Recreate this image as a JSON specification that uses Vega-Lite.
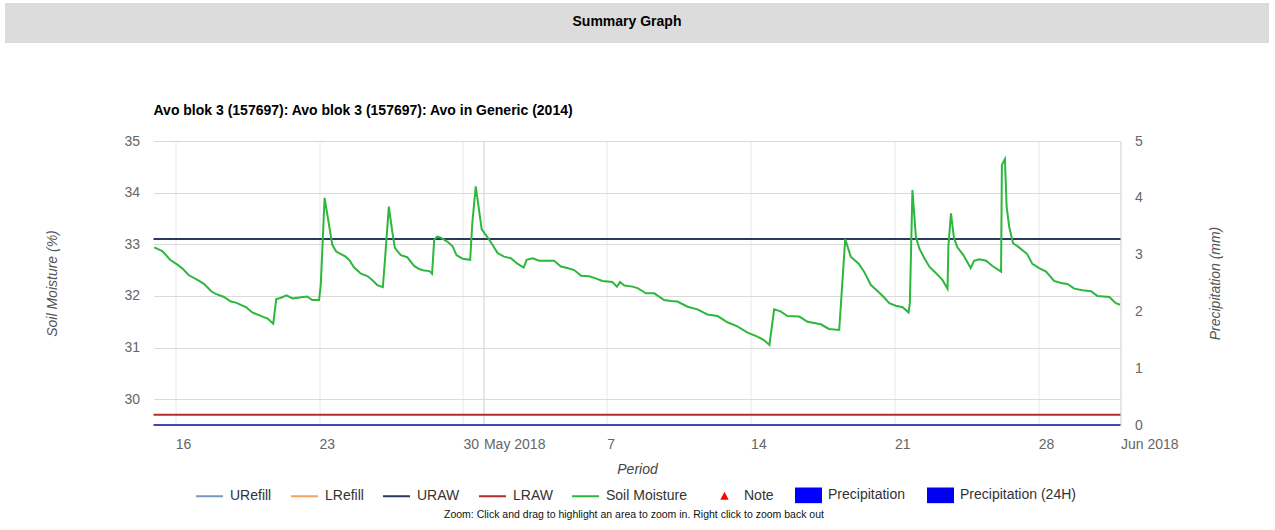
{
  "$schema": "https://vega.github.io/schema/vega-lite/v6.json",
  "padding": {"left": 5, "top": 3, "right": 3, "bottom": 0},
  "background": "white",
  "title": {"text": "Zoom: Click and drag to highlight an area to zoom in. Right click to zoom back out", "orient": "bottom", "anchor": "middle", "fontSize": 10.5, "fontWeight": "normal", "font": "Liberation Sans", "color": "#111111", "offset": 6, "dx": -3},
  "config": {
    "view": {"stroke": null},
    "font": "Liberation Sans"
  },
  "bounds": "flush",
  "center": true,
  "spacing": 98,
  "datasets": {
    "sm": [
      {"date": "2018-04-14T23:30Z", "v": 32.94},
      {"date": "2018-04-15T09:00Z", "v": 32.87},
      {"date": "2018-04-15T18:00Z", "v": 32.70},
      {"date": "2018-04-16T03:00Z", "v": 32.60},
      {"date": "2018-04-16T09:00Z", "v": 32.52},
      {"date": "2018-04-16T16:00Z", "v": 32.40},
      {"date": "2018-04-17T02:00Z", "v": 32.31},
      {"date": "2018-04-17T10:00Z", "v": 32.23},
      {"date": "2018-04-17T18:00Z", "v": 32.09},
      {"date": "2018-04-17T23:30Z", "v": 32.04},
      {"date": "2018-04-18T09:00Z", "v": 31.98},
      {"date": "2018-04-18T17:00Z", "v": 31.89},
      {"date": "2018-04-18T23:00Z", "v": 31.87},
      {"date": "2018-04-19T11:00Z", "v": 31.78},
      {"date": "2018-04-19T18:00Z", "v": 31.68},
      {"date": "2018-04-20T06:00Z", "v": 31.60},
      {"date": "2018-04-20T12:00Z", "v": 31.56},
      {"date": "2018-04-20T18:30Z", "v": 31.46},
      {"date": "2018-04-20T22:00Z", "v": 31.94},
      {"date": "2018-04-21T03:00Z", "v": 31.96},
      {"date": "2018-04-21T10:00Z", "v": 32.01},
      {"date": "2018-04-21T17:00Z", "v": 31.95},
      {"date": "2018-04-22T01:00Z", "v": 31.97},
      {"date": "2018-04-22T10:00Z", "v": 31.99},
      {"date": "2018-04-22T16:00Z", "v": 31.92},
      {"date": "2018-04-23T00:00Z", "v": 31.92},
      {"date": "2018-04-23T02:00Z", "v": 32.21},
      {"date": "2018-04-23T06:30Z", "v": 33.90},
      {"date": "2018-04-23T12:00Z", "v": 33.34},
      {"date": "2018-04-23T15:30Z", "v": 32.99},
      {"date": "2018-04-23T20:00Z", "v": 32.86},
      {"date": "2018-04-24T07:00Z", "v": 32.76},
      {"date": "2018-04-24T11:00Z", "v": 32.70},
      {"date": "2018-04-24T17:00Z", "v": 32.55},
      {"date": "2018-04-25T01:00Z", "v": 32.43},
      {"date": "2018-04-25T09:00Z", "v": 32.38},
      {"date": "2018-04-25T14:00Z", "v": 32.31},
      {"date": "2018-04-25T20:00Z", "v": 32.21},
      {"date": "2018-04-26T02:30Z", "v": 32.17},
      {"date": "2018-04-26T05:00Z", "v": 32.70},
      {"date": "2018-04-26T09:30Z", "v": 33.73},
      {"date": "2018-04-26T13:30Z", "v": 33.25},
      {"date": "2018-04-26T16:30Z", "v": 32.93},
      {"date": "2018-04-26T23:30Z", "v": 32.79},
      {"date": "2018-04-27T07:00Z", "v": 32.75},
      {"date": "2018-04-27T15:00Z", "v": 32.58},
      {"date": "2018-04-27T21:00Z", "v": 32.52},
      {"date": "2018-04-28T03:00Z", "v": 32.49},
      {"date": "2018-04-28T09:00Z", "v": 32.48},
      {"date": "2018-04-28T12:00Z", "v": 32.43},
      {"date": "2018-04-28T14:30Z", "v": 33.09},
      {"date": "2018-04-28T18:00Z", "v": 33.15},
      {"date": "2018-04-28T22:00Z", "v": 33.13},
      {"date": "2018-04-29T06:00Z", "v": 33.05},
      {"date": "2018-04-29T12:00Z", "v": 32.96},
      {"date": "2018-04-29T16:30Z", "v": 32.79},
      {"date": "2018-04-29T23:30Z", "v": 32.72},
      {"date": "2018-04-30T08:30Z", "v": 32.70},
      {"date": "2018-04-30T11:00Z", "v": 33.41},
      {"date": "2018-04-30T15:00Z", "v": 34.12},
      {"date": "2018-04-30T22:00Z", "v": 33.29},
      {"date": "2018-05-01T05:00Z", "v": 33.13},
      {"date": "2018-05-01T10:30Z", "v": 32.99},
      {"date": "2018-05-01T16:30Z", "v": 32.83},
      {"date": "2018-05-02T00:00Z", "v": 32.76},
      {"date": "2018-05-02T08:00Z", "v": 32.73},
      {"date": "2018-05-02T16:00Z", "v": 32.62},
      {"date": "2018-05-02T23:00Z", "v": 32.55},
      {"date": "2018-05-03T02:30Z", "v": 32.70},
      {"date": "2018-05-03T09:30Z", "v": 32.73},
      {"date": "2018-05-03T17:00Z", "v": 32.68},
      {"date": "2018-05-04T03:00Z", "v": 32.68},
      {"date": "2018-05-04T10:30Z", "v": 32.68},
      {"date": "2018-05-04T18:30Z", "v": 32.57},
      {"date": "2018-05-05T02:00Z", "v": 32.54},
      {"date": "2018-05-05T10:00Z", "v": 32.50},
      {"date": "2018-05-05T18:00Z", "v": 32.39},
      {"date": "2018-05-06T03:30Z", "v": 32.38},
      {"date": "2018-05-06T11:00Z", "v": 32.34},
      {"date": "2018-05-06T19:00Z", "v": 32.29},
      {"date": "2018-05-07T06:30Z", "v": 32.27},
      {"date": "2018-05-07T12:00Z", "v": 32.18},
      {"date": "2018-05-07T15:30Z", "v": 32.27},
      {"date": "2018-05-07T20:30Z", "v": 32.20},
      {"date": "2018-05-08T06:00Z", "v": 32.18},
      {"date": "2018-05-08T12:00Z", "v": 32.15},
      {"date": "2018-05-08T18:00Z", "v": 32.09},
      {"date": "2018-05-08T21:30Z", "v": 32.05},
      {"date": "2018-05-09T07:30Z", "v": 32.05},
      {"date": "2018-05-09T19:00Z", "v": 31.92},
      {"date": "2018-05-10T03:00Z", "v": 31.90},
      {"date": "2018-05-10T10:30Z", "v": 31.89},
      {"date": "2018-05-10T22:30Z", "v": 31.79},
      {"date": "2018-05-11T10:00Z", "v": 31.74},
      {"date": "2018-05-11T21:30Z", "v": 31.64},
      {"date": "2018-05-12T09:30Z", "v": 31.61},
      {"date": "2018-05-12T21:00Z", "v": 31.49},
      {"date": "2018-05-13T08:30Z", "v": 31.41},
      {"date": "2018-05-13T20:30Z", "v": 31.29},
      {"date": "2018-05-14T08:00Z", "v": 31.21},
      {"date": "2018-05-14T16:00Z", "v": 31.14},
      {"date": "2018-05-14T22:00Z", "v": 31.05},
      {"date": "2018-05-15T03:30Z", "v": 31.74},
      {"date": "2018-05-15T11:00Z", "v": 31.70},
      {"date": "2018-05-15T19:00Z", "v": 31.61},
      {"date": "2018-05-16T09:00Z", "v": 31.60},
      {"date": "2018-05-16T18:30Z", "v": 31.50},
      {"date": "2018-05-17T10:00Z", "v": 31.45},
      {"date": "2018-05-17T19:30Z", "v": 31.36},
      {"date": "2018-05-18T07:30Z", "v": 31.34},
      {"date": "2018-05-18T14:30Z", "v": 33.10},
      {"date": "2018-05-18T21:00Z", "v": 32.76},
      {"date": "2018-05-19T06:30Z", "v": 32.62},
      {"date": "2018-05-19T12:30Z", "v": 32.47},
      {"date": "2018-05-19T20:30Z", "v": 32.21},
      {"date": "2018-05-20T04:30Z", "v": 32.09},
      {"date": "2018-05-20T12:00Z", "v": 31.97},
      {"date": "2018-05-20T18:00Z", "v": 31.86},
      {"date": "2018-05-21T01:30Z", "v": 31.81},
      {"date": "2018-05-21T09:30Z", "v": 31.78},
      {"date": "2018-05-21T16:30Z", "v": 31.68},
      {"date": "2018-05-21T18:00Z", "v": 31.86},
      {"date": "2018-05-21T21:00Z", "v": 34.05},
      {"date": "2018-05-22T01:00Z", "v": 33.15},
      {"date": "2018-05-22T05:00Z", "v": 32.92},
      {"date": "2018-05-22T11:00Z", "v": 32.73},
      {"date": "2018-05-22T17:00Z", "v": 32.56},
      {"date": "2018-05-23T00:00Z", "v": 32.45},
      {"date": "2018-05-23T08:00Z", "v": 32.31},
      {"date": "2018-05-23T14:00Z", "v": 32.14},
      {"date": "2018-05-23T15:00Z", "v": 32.96},
      {"date": "2018-05-23T18:00Z", "v": 33.60},
      {"date": "2018-05-23T21:30Z", "v": 33.12},
      {"date": "2018-05-24T01:30Z", "v": 32.94},
      {"date": "2018-05-24T08:30Z", "v": 32.79},
      {"date": "2018-05-24T17:00Z", "v": 32.54},
      {"date": "2018-05-24T21:00Z", "v": 32.68},
      {"date": "2018-05-25T03:00Z", "v": 32.71},
      {"date": "2018-05-25T11:00Z", "v": 32.68},
      {"date": "2018-05-25T18:30Z", "v": 32.58},
      {"date": "2018-05-26T04:30Z", "v": 32.47},
      {"date": "2018-05-26T05:30Z", "v": 34.54},
      {"date": "2018-05-26T09:00Z", "v": 34.65},
      {"date": "2018-05-26T11:00Z", "v": 33.73},
      {"date": "2018-05-26T14:00Z", "v": 33.34},
      {"date": "2018-05-26T18:30Z", "v": 33.02},
      {"date": "2018-05-27T01:30Z", "v": 32.94},
      {"date": "2018-05-27T11:00Z", "v": 32.81},
      {"date": "2018-05-27T17:00Z", "v": 32.62},
      {"date": "2018-05-28T01:00Z", "v": 32.54},
      {"date": "2018-05-28T09:00Z", "v": 32.47},
      {"date": "2018-05-28T18:30Z", "v": 32.29},
      {"date": "2018-05-29T02:30Z", "v": 32.25},
      {"date": "2018-05-29T10:00Z", "v": 32.23},
      {"date": "2018-05-29T18:00Z", "v": 32.14},
      {"date": "2018-05-30T03:30Z", "v": 32.11},
      {"date": "2018-05-30T13:30Z", "v": 32.09},
      {"date": "2018-05-30T21:00Z", "v": 32.00},
      {"date": "2018-05-31T11:00Z", "v": 31.98},
      {"date": "2018-05-31T18:30Z", "v": 31.86},
      {"date": "2018-05-31T23:30Z", "v": 31.83}
    ]
  },
  "vconcat": [
    {
      "width": 1264,
      "height": 40,
      "view": {"fill": "#dcdcdc", "stroke": null},
      "data": {"values": [{"label": "Summary Graph"}]},
      "mark": {"type": "text", "fontSize": 14, "fontWeight": "bold", "font": "Liberation Sans", "color": "#000000", "baseline": "middle", "dx": -10, "dy": -1},
      "encoding": {"text": {"field": "label", "type": "nominal"}}
    },
    {
      "width": 967,
      "height": 284,
      "title": {"text": "Avo blok 3 (157697): Avo blok 3 (157697): Avo in Generic (2014)", "anchor": "start", "frame": "group", "fontSize": 14, "fontWeight": "bold", "color": "#000000", "offset": 16, "font": "Liberation Sans"},
      "layer": [
        {
          "layer": [
            {
              "data": {"values": [{"level": "URAW", "v": 33.1}, {"level": "LRAW", "v": 29.7}]},
              "mark": {"type": "rule", "strokeWidth": 2},
              "encoding": {
                "y": {"field": "v", "type": "quantitative", "scale": {"domain": [29.5, 35], "nice": false, "zero": false}},
                "color": {"field": "level", "type": "nominal", "title": null,
                  "scale": {"domain": ["URefill", "LRefill", "URAW", "LRAW", "Soil Moisture"], "range": ["#7798BF", "#f7a35c", "#2b3a5c", "#b22d2d", "#2db83d"]},
                  "legend": {"orient": "none", "legendX": 190, "legendY": 478.5, "padding": 0, "direction": "horizontal", "title": null, "columns": 5, "labelFontSize": 14, "labelColor": "#333333", "labelFont": "Liberation Sans", "symbolSize": 729, "symbolStrokeWidth": 2, "columnPadding": 15, "labelOffset": 6}
                }
              }
            },
            {
              "data": {"name": "sm"},
              "mark": {"type": "line", "strokeWidth": 2, "interpolate": "linear"},
              "encoding": {
                "x": {"field": "date", "type": "temporal",
                  "scale": {"type": "utc", "domain": [{"year": 2018, "month": 4, "date": 14, "hours": 22, "minutes": 40, "utc": true}, {"year": 2018, "month": 6, "date": 1, "utc": true}]},
                  "axis": {"title": "Period", "titleFontStyle": "italic", "titleFontSize": 14, "titleFontWeight": "normal", "titleColor": "#444444", "titleFont": "Liberation Sans", "titlePadding": 11,
                    "labelFontSize": 14, "labelColor": "#666666", "labelFont": "Liberation Sans", "labelAlign": "left", "labelPadding": 12, "labelFlush": false, "labelOverlap": false,
                    "ticks": false, "domain": false, "grid": true,
                    "gridColor": {"condition": {"test": "utcdate(datum.value) === 1", "value": "#cfcfcf"}, "value": "#e8e8e8"},
                    "values": [
                      {"year": 2018, "month": 4, "date": 16, "utc": true},
                      {"year": 2018, "month": 4, "date": 23, "utc": true},
                      {"year": 2018, "month": 4, "date": 30, "utc": true},
                      {"year": 2018, "month": 5, "date": 1, "utc": true},
                      {"year": 2018, "month": 5, "date": 7, "utc": true},
                      {"year": 2018, "month": 5, "date": 14, "utc": true},
                      {"year": 2018, "month": 5, "date": 21, "utc": true},
                      {"year": 2018, "month": 5, "date": 28, "utc": true},
                      {"year": 2018, "month": 6, "date": 1, "utc": true}
                    ],
                    "labelExpr": "utcdate(datum.value) === 1 ? utcFormat(datum.value, '%b %Y') : utcFormat(datum.value, '%-d')"
                  }
                },
                "y": {"field": "v", "type": "quantitative", "scale": {"domain": [29.5, 35], "nice": false, "zero": false},
                  "axis": {"title": "Soil Moisture (%)", "titleFontStyle": "italic", "titleFontSize": 14, "titleFontWeight": "normal", "titleColor": "#555555", "titleFont": "Liberation Sans", "titlePadding": 64,
                    "labelFontSize": 14, "labelColor": "#666666", "labelFont": "Liberation Sans", "labelPadding": 14, "format": "d",
                    "ticks": false, "domain": false, "grid": true, "gridColor": "#dadada", "values": [30, 31, 32, 33, 34, 35]}
                },
                "color": {"datum": "Soil Moisture", "type": "nominal", "title": null}
              }
            }
          ]
        },
        {
          "data": {"values": [{"p": 0}]},
          "mark": {"type": "rule", "strokeWidth": 2, "color": "#4444bb"},
          "encoding": {
            "y": {"field": "p", "type": "quantitative", "scale": {"domain": [0, 5], "nice": false},
              "axis": {"orient": "right", "title": "Precipitation (mm)", "titleAngle": 270, "titleFontStyle": "italic", "titleFontSize": 14, "titleFontWeight": "normal", "titleColor": "#555555", "titleFont": "Liberation Sans", "titlePadding": 80,
                "labelFontSize": 14, "labelColor": "#666666", "labelFont": "Liberation Sans", "labelPadding": 14,
                "ticks": false, "domain": false, "grid": false, "values": [0, 1, 2, 3, 4, 5]}
            }
          }
        },
        {
          "data": {"values": [{"k": "Note"}, {"k": "Precipitation"}, {"k": "Precipitation (24H)"}]},
          "transform": [{"filter": "datum.k == null"}],
          "mark": {"type": "point", "filled": true, "strokeWidth": 0, "opacity": 1},
          "encoding": {
            "fill": {"field": "k", "type": "nominal", "title": null,
              "scale": {"domain": ["Note", "Precipitation", "Precipitation (24H)"], "range": ["#ff0000", "#0000ff", "#0000ee"]},
              "legend": {"orient": "none", "legendX": 706, "legendY": 478.5, "padding": 0, "direction": "horizontal", "title": null, "columns": 3, "labelFontSize": 14, "labelColor": "#333333", "labelFont": "Liberation Sans", "symbolSize": 729, "symbolStrokeWidth": 0, "symbolOpacity": 1, "columnPadding": 21, "labelOffset": 6}
            },
            "shape": {"field": "k", "type": "nominal", "title": null,
              "scale": {"domain": ["Note", "Precipitation", "Precipitation (24H)"], "range": ["M0,-0.3L0.31,0.3L-0.31,0.3Z", "M-1,-0.58H1V0.58H-1Z", "M-1,-0.58H1V0.58H-1Z"]},
              "legend": {"orient": "none", "legendX": 706, "legendY": 478.5, "padding": 0, "direction": "horizontal", "title": null, "columns": 3, "labelFontSize": 14, "labelColor": "#333333", "labelFont": "Liberation Sans", "symbolSize": 729, "symbolStrokeWidth": 0, "symbolOpacity": 1, "columnPadding": 21, "labelOffset": 6}
            }
          }
        }
      ],
      "resolve": {"scale": {"y": "independent"}}
    }
  ]
}
